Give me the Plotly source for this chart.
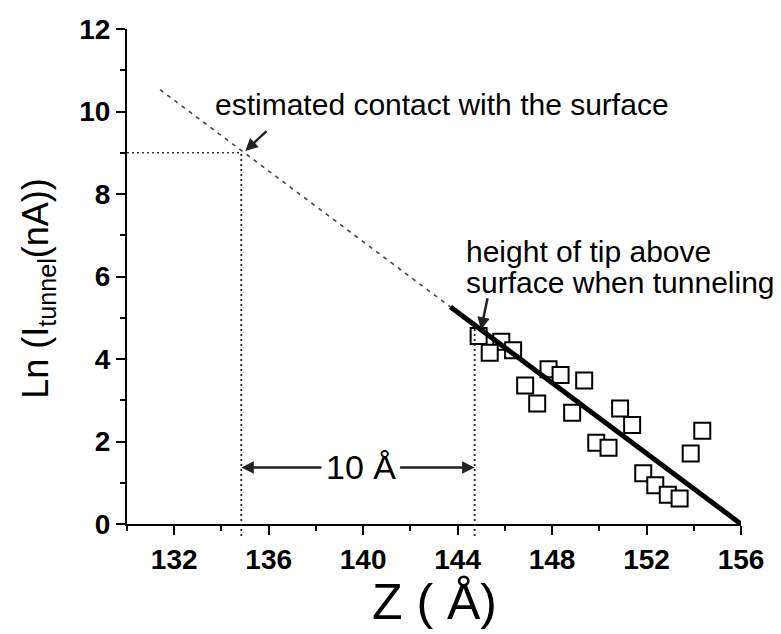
import plotly.graph_objects as go

# ---- data ----
z_data = [144.89, 145.85, 145.36, 146.35, 147.85, 148.36, 149.36, 146.86, 147.37, 148.85,
          150.88, 151.39, 154.36, 149.87, 150.39, 153.87, 151.86, 152.37, 152.90, 153.40]
ln_data = [4.56, 4.42, 4.15, 4.21, 3.75, 3.61, 3.48, 3.36, 2.92, 2.70,
           2.80, 2.40, 2.26, 1.97, 1.85, 1.71, 1.23, 0.94, 0.71, 0.62]

fit_dash_z = [131.4, 143.7]
fit_dash_ln = [10.53, 5.26]
fit_solid_z = [143.7, 156.0]
fit_solid_ln = [5.26, 0.0]

contact_z = 134.84
contact_ln = 9.0
tunnel_z = 144.72
tunnel_ln = 4.83
gap_ln = 1.37
gap_text_z = 139.9

x_range = [130, 156]
y_range = [0, 12]
x_ticks = [132, 136, 140, 144, 148, 152, 156]
y_ticks = [0, 2, 4, 6, 8, 10, 12]

FONT = "Liberation Sans, Arial, sans-serif"

fig = go.Figure()

fig.add_trace(go.Scatter(
    x=z_data, y=ln_data, mode="markers",
    marker=dict(symbol="square", size=16, color="white",
                line=dict(color="black", width=2)),
    showlegend=False, hoverinfo="skip"))

fig.add_trace(go.Scatter(
    x=fit_dash_z, y=fit_dash_ln, mode="lines",
    line=dict(color="#444", width=1.6, dash="4px,5px"),
    showlegend=False, hoverinfo="skip"))

fig.add_trace(go.Scatter(
    x=fit_solid_z, y=fit_solid_ln, mode="lines",
    line=dict(color="black", width=5),
    showlegend=False, hoverinfo="skip"))

fig.add_trace(go.Scatter(
    x=[x_range[0], contact_z], y=[contact_ln, contact_ln], mode="lines",
    line=dict(color="#333", width=1.6, dash="2px,3px"),
    showlegend=False, hoverinfo="skip"))

def frac(v):
    return (v - y_range[0]) / (y_range[1] - y_range[0])

dot = dict(color="#222", width=1.8, dash="2px,3px")
fig.add_shape(type="line", xref="x", yref="paper", x0=contact_z, x1=contact_z,
              y0=-0.024, y1=frac(contact_ln), line=dot)
fig.add_shape(type="line", xref="x", yref="paper", x0=tunnel_z, x1=tunnel_z,
              y0=-0.024, y1=frac(tunnel_ln), line=dot)

annos = []
# text labels
annos.append(dict(x=133.64, y=10.18, xref="x", yref="y", text="estimated contact with the surface",
                  showarrow=False, xanchor="left", yanchor="middle",
                  font=dict(family=FONT, size=30, color="black")))
annos.append(dict(x=144.27, y=6.6, xref="x", yref="y", text="height of tip above",
                  showarrow=False, xanchor="left", yanchor="middle",
                  font=dict(family=FONT, size=30, color="black")))
annos.append(dict(x=144.27, y=5.85, xref="x", yref="y", text="surface when tunneling",
                  showarrow=False, xanchor="left", yanchor="middle",
                  font=dict(family=FONT, size=30, color="black")))
annos.append(dict(x=gap_text_z, y=gap_ln, xref="x", yref="y", text="10 Å",
                  showarrow=False, xanchor="center", yanchor="middle",
                  font=dict(family=FONT, size=34, color="black")))

arrow = dict(showarrow=True, arrowhead=2, arrowsize=1, arrowwidth=2.5,
             arrowcolor="#222", xref="x", yref="y", axref="x", ayref="y",
             text="", standoff=0, startstandoff=0)
annos.append(dict(arrow, x=135.01, y=9.04, ax=135.97, ay=9.56))
annos.append(dict(arrow, x=144.99, y=4.71, ax=145.28, ay=5.51))
annos.append(dict(arrow, x=contact_z, y=gap_ln, ax=138.3, ay=gap_ln))
annos.append(dict(arrow, x=tunnel_z, y=gap_ln, ax=141.5, ay=gap_ln))

# axis titles
annos.append(dict(x=0.5, y=-0.158, xref="paper", yref="paper", text="Z ( Å)",
                  showarrow=False, xanchor="center", yanchor="middle",
                  font=dict(family=FONT, size=50, color="black")))
annos.append(dict(x=-0.145, y=0.477, xref="paper", yref="paper",
                  text="Ln (I<sub>tunnel</sub>(nA))", textangle=-90,
                  showarrow=False, xanchor="center", yanchor="middle",
                  font=dict(family=FONT, size=36, color="black")))

fig.update_layout(
    width=781, height=634,
    margin=dict(l=119, r=48, t=21, b=117.5, autoexpand=False),
    paper_bgcolor="white", plot_bgcolor="white",
    annotations=annos, showlegend=False,
    xaxis=dict(range=x_range, tickmode="array", tickvals=x_ticks, automargin=False,
               ticktext=[str(t) for t in x_ticks],
               showgrid=False, zeroline=False, showline=True, linecolor="black",
               linewidth=2, ticks="outside", ticklen=9, tickwidth=2, tickcolor="black",
               tickfont=dict(family=FONT, size=28, color="black", weight="bold"),
               minor=dict(dtick=2, tick0=130, ticks="outside", ticklen=5, tickwidth=2,
                          tickcolor="black", showgrid=False)),
    yaxis=dict(range=y_range, tickmode="array", tickvals=y_ticks, automargin=False,
               ticktext=[str(t) for t in y_ticks],
               showgrid=False, zeroline=False, showline=True, linecolor="black",
               linewidth=2, ticks="outside", ticklen=9, tickwidth=2, tickcolor="black",
               tickfont=dict(family=FONT, size=28, color="black", weight="bold"),
               minor=dict(dtick=1, tick0=0, ticks="outside", ticklen=5, tickwidth=2,
                          tickcolor="black", showgrid=False)),
)

fig.write_html("out.html")
